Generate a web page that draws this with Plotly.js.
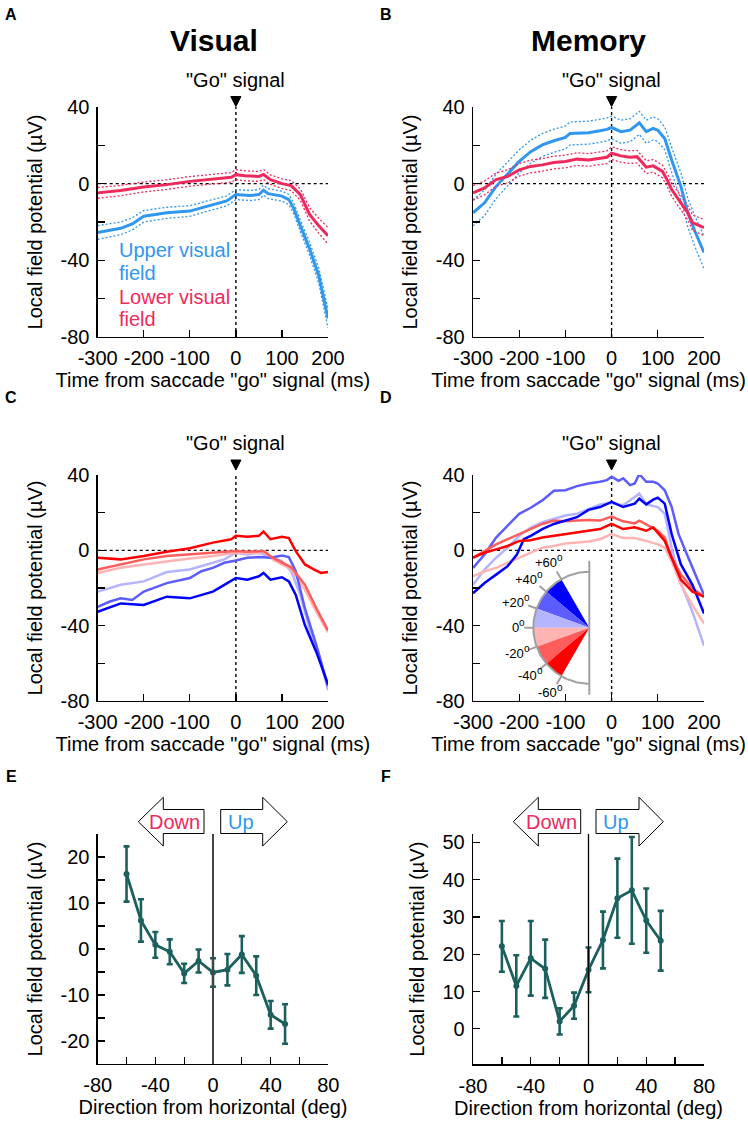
<!DOCTYPE html>
<html><head><meta charset="utf-8">
<script src="https://cdn.plot.ly/plotly-3.0.1.min.js"></script>
<style>body{margin:0;background:#fff}</style>
</head><body><div id="chart" style="width:748px;height:1125px"></div>
<script>
// ---------- Panel A (Visual): upper vs lower visual field ----------
const tA_low = [-300,-250,-200,-150,-100,-50,-10,0,20,50,60,75,100,120,140,160,180,200];
const vA_low = [-4.8,-3.6,-1.7,-0.5,1.2,2.4,3.3,4.7,4.1,3.8,4.8,2.1,0,-1,-5.7,-16,-22,-27.2];
const eA_low = [2.8,2.7,2.6,2.5,2.5,2.5,2.5,2.6,2.6,2.6,2.6,2.5,2.5,2.6,3,3.5,3.9,4.3];
const tA_up = [-300,-250,-225,-200,-150,-100,-75,-50,-20,0,30,50,60,70,100,115,125,140,160,180,200];
const vA_up = [-25.5,-23.3,-21,-17,-15.2,-14.3,-12.6,-10.9,-9,-5.7,-6.2,-5.7,-3.4,-5.2,-6.5,-8.3,-12.6,-22,-34,-48,-70.3];
const eA_up = [3.6,3.3,3.2,3,2.9,2.8,2.7,2.7,2.6,2.6,2.6,2.6,2.6,2.6,2.6,2.7,2.8,3,3.4,4,5];

// ---------- Panel B (Memory): upper vs lower visual field ----------
const tB_up = [-300,-275,-250,-225,-200,-175,-150,-125,-100,-90,-50,-25,-10,0,20,40,60,75,90,100,115,130,150,165,180,200];
const vB_up = [-15.2,-10,-1.4,5.2,11.6,16.7,20.2,22.4,24.1,26.2,26.6,27.6,28.3,29.3,27.1,27.9,31.7,27.1,28.8,27.9,23.6,12.4,-1.4,-15.2,-24.7,-35.9];
const eB_up = [6.8,6.6,6.4,6.2,6,6,6,6,6,6,6,6,6,6,6,6,6,6,6,6,6,6.5,7,7.5,8,8.5];
const tB_low = [-300,-275,-250,-225,-200,-175,-150,-125,-100,-75,-50,-25,-10,0,20,40,55,75,90,110,120,130,150,165,175,200];
const vB_low = [-4.8,-2.2,2.1,3.8,7.2,9,9.8,11,11.6,12.8,12.4,13.3,13.8,15.9,14.5,13.8,14.1,8.6,9.3,6.4,2.1,-3.1,-10,-15.2,-20.3,-22.9];
const eB_low = [3.8,3.6,3.5,3.4,3.3,3.3,3.3,3.3,3.3,3.3,3.3,3.3,3.3,3.3,3.3,3.3,3.3,3.3,3.3,3.3,3.4,3.5,3.6,3.8,4,4.2];

// ---------- Panel C (Visual): six direction bins ----------
const tC_b60 = [-300,-250,-200,-150,-100,-75,-50,-25,0,25,50,60,75,100,115,130,150,175,200];
const vC_b60 = [-32.6,-28.2,-29,-24.6,-25.5,-23.7,-21.9,-18.3,-14.7,-15.6,-13.8,-12,-15.6,-14.3,-16.5,-23.7,-39.8,-54.2,-71.2];
const tC_b40 = [-300,-275,-250,-225,-200,-150,-100,-75,-50,-25,0,25,50,75,100,115,130,150,175,200];
const vC_b40 = [-30,-27.3,-25.5,-26.4,-21.9,-17.4,-14.7,-11.1,-9.3,-6.6,-5.4,-3.9,-3.6,-3.9,-2.7,-3.6,-11.1,-30.9,-50.6,-72.1];
const tC_b20 = [-300,-250,-200,-150,-100,-75,-50,-25,0,25,50,75,100,120,140,160,180,200];
const vC_b20 = [-21.9,-18.3,-16.5,-11.5,-10.2,-8.4,-6.6,-4.8,-1.3,-2.2,-1.3,-3.6,-5.7,-11.1,-23.7,-41.7,-55.2,-74.3];
const tC_r20 = [-300,-250,-200,-150,-100,-50,0,25,50,60,80,100,120,150,175,200];
const vC_r20 = [-12,-9.3,-7.5,-5.7,-4.3,-3,-1.3,-1.4,-1.4,-0.7,-4.8,-7.5,-9.7,-21,-32.7,-43.5];
const tC_r40 = [-300,-250,-200,-150,-100,-50,0,25,50,60,80,100,120,150,175,200];
const vC_r40 = [-10.2,-7.5,-4.8,-3,-2.2,-1.3,-0.4,-0.7,-0.7,-0.4,-3.9,-6.6,-9,-18.3,-30.9,-42.5];
const tC_r60 = [-300,-250,-200,-150,-100,-50,-10,0,25,50,60,75,100,115,130,150,170,185,200];
const vC_r60 = [-3.9,-4.8,-3,-0.7,1.1,4.1,5.9,7.7,7.2,7.7,10,5.9,7.2,6.5,-0.4,-7.5,-10.2,-12,-11.5];

// ---------- Panel D (Memory): six direction bins ----------
const tD_b60 = [-300,-275,-250,-225,-205,-190,-175,-150,-125,-100,-75,-50,-25,0,25,50,60,75,90,100,115,130,150,175,200];
const vD_b60 = [-22.8,-17.4,-12.9,-8.4,-2.2,5.9,7.7,11.3,14,15.8,17.6,21.5,23,25.7,23,24.8,27.4,24.4,26.9,28,24.8,8.6,-7.5,-18.3,-33.5];
const tD_b40 = [-300,-275,-250,-225,-200,-175,-150,-125,-100,-75,-50,-25,-10,0,15,25,40,50,60,75,90,100,115,130,145,160,175,190,200];
const vD_b40 = [-9.3,-2.2,6.8,13.1,19.4,22.6,26.5,31.6,31.9,34.1,35.5,36.4,37.3,39.1,36.9,38.2,34.6,35.5,40.5,36.4,36.4,35.5,31.9,23,8.6,-0.4,-9.3,-18.3,-23.7];
const tD_b20 = [-300,-275,-250,-225,-200,-175,-150,-125,-100,-75,-50,-25,0,25,50,60,75,100,115,130,150,175,200];
const vD_b20 = [-18.3,-10.2,-3.9,1.4,7.7,12.1,14.9,16.7,18.5,19.4,22.1,24.4,25.1,23.9,28.3,30.1,24.4,23,19.4,1.4,-17.4,-32.7,-50.6];
const tD_r20 = [-300,-275,-250,-225,-200,-175,-150,-125,-100,-75,-50,-25,0,25,50,75,100,115,130,150,175,200];
const vD_r20 = [-13.8,-11.1,-9.3,-6.6,-3.9,-1.3,1.4,2.3,3.6,4.1,4.7,5.9,8.6,6.5,6.5,5,3.2,1.4,-5.7,-18.3,-29.1,-38.9];
const tD_r40 = [-300,-275,-250,-225,-200,-175,-150,-125,-100,-75,-50,-25,0,25,50,60,75,100,115,130,150,175,200];
const vD_r40 = [-3.9,-0.4,3.2,5.9,8.6,11.3,14,15.8,15.4,15.8,16.1,15.8,17.9,15.4,14.3,15.8,13.6,10.4,6.8,-3.9,-12.9,-20.1,-24.6];
const tD_r60 = [-300,-275,-250,-225,-200,-175,-150,-125,-100,-75,-50,-25,0,25,50,75,90,100,115,130,150,175,200];
const vD_r60 = [-3.9,-1.3,0.5,2.3,5,5.4,6.8,7.7,8.6,9.5,10.4,11.3,14,11.3,12.2,10.4,12.2,9.5,5,-3.9,-15.6,-21.9,-24.6];

// ---------- Panels E / F: tuning by direction ----------
const directions = [-60,-50,-40,-30,-20,-10,0,10,20,30,40,50];
const lfpE = [16.3,6.2,0.9,-0.6,-5.3,-2.6,-5.1,-4.5,-1.2,-5.8,-14.3,-16.3];
const errE = [6,4.6,2.8,2.7,2.1,2.5,3.1,3.4,4,4.2,3,4.3];
const lfpF = [22.1,11.5,18.9,16.1,2,6.2,15.8,23.8,35,37.1,29,23.6];
const errF = [6.8,8.2,10,7.8,3.5,3.5,6,7.6,10.6,14.3,8.6,8];

// ---------- tick labels ----------
const timeTicks = [-300,-200,-100,0,100,200];
const timeTickText = ['-300','-200','-100','0','100','200'];
const lfpTicks = [-80,-40,0,40];
const lfpTickText = ['-80','-40','0','40'];
const dirTicks = [-80,-40,0,40,80];
const dirTickText = ['-80','-40','0','40','80'];
const eTicks = [-20,-10,0,10,20];
const eTickText = ['-20','-10','0','10','20'];
const fTicks = [0,10,20,30,40,50];
const fTickText = ['0','10','20','30','40','50'];

// inset legend (direction bins)
const wedgeEdges = [60,40,20,0,-20,-40,-60];
const wedgeLabels = ['+60','+40','+20','0','-20','-40','-60'];
const binColors = ['#0000ff','#5c5cff','#b4b4ff','#ffb4b4','#ff5c5c','#ff0000'];

const BLUE = '#2f97f0', RED = '#ee2a5c', TEAL = '#1b605c';

// ---------- layout helpers ----------
const W = 748, H = 1125;
const PX = x => x / W, PY = y => 1 - y / H;
const FONT = 'Liberation Sans, Arial, sans-serif';

function axisBase(tv, tt, minorDtick, minor0, title, standoff) {
  return {tickvals:tv, ticktext:tt,
    ticks:'inside', ticklen:7, tickwidth:1.3, tickcolor:'#000',
    minor: minorDtick ? {tick0:minor0, dtick:minorDtick, ticks:'inside', ticklen:7, tickwidth:1.3, tickcolor:'#000', showgrid:false} : undefined,
    showline:true, linecolor:'#000', linewidth:1.3, showgrid:false, zeroline:false,
    tickfont:{size:20,color:'#000'}, ticklabelstandoff:3,
    title:{text:title, font:{size:20,color:'#000'}, standoff}, fixedrange:true};
}
function xAxis(x0, x1, anchor, range, tv, tt, md, m0, title) {
  return Object.assign(axisBase(tv, tt, md, m0, title, 4), {domain:[PX(x0),PX(x1)], anchor, range});
}
function yAxis(top, bot, anchor, range, tv, tt, md, m0, title) {
  return Object.assign(axisBase(tv, tt, md, m0, title, 12), {domain:[PY(bot),PY(top)], anchor, range});
}

const traces = [];
function line(x, y, xa, ya, color, width, dash) {
  traces.push({type:'scatter', mode:'lines', x, y, xaxis:xa, yaxis:ya,
    line:{color, width, dash: dash || 'solid'}, showlegend:false, hoverinfo:'skip'});
}
function withCI(t, v, e, xa, ya, color) {
  line(t, v.map((d,i)=>d+e[i]), xa, ya, color, 1.3, '2px,2px');
  line(t, v.map((d,i)=>d-e[i]), xa, ya, color, 1.3, '2px,2px');
  line(t, v, xa, ya, color, 3);
}
withCI(tA_low, vA_low, eA_low, 'x', 'y', RED);
withCI(tA_up, vA_up, eA_up, 'x', 'y', BLUE);
withCI(tB_up, vB_up, eB_up, 'x2', 'y2', BLUE);
withCI(tB_low, vB_low, eB_low, 'x2', 'y2', RED);

const cSeries = [[tC_b60,vC_b60],[tC_b40,vC_b40],[tC_b20,vC_b20],[tC_r20,vC_r20],[tC_r40,vC_r40],[tC_r60,vC_r60]];
const dSeries = [[tD_b60,vD_b60],[tD_b40,vD_b40],[tD_b20,vD_b20],[tD_r20,vD_r20],[tD_r40,vD_r40],[tD_r60,vD_r60]];
[2,3,1,4,0,5].forEach(i => line(cSeries[i][0], cSeries[i][1], 'x3', 'y3', binColors[i], 2.5));
[2,3,1,4,0,5].forEach(i => line(dSeries[i][0], dSeries[i][1], 'x4', 'y4', binColors[i], 2.5));

function tuning(y, err, xa, ya) {
  traces.push({type:'scatter', mode:'lines+markers', x:directions, y, xaxis:xa, yaxis:ya,
    line:{color:TEAL, width:2.8}, marker:{color:TEAL, size:6},
    error_y:{type:'data', array:err, visible:true, color:TEAL, thickness:2.6, width:3},
    showlegend:false, hoverinfo:'skip', cliponaxis:false});
}
tuning(lfpE, errE, 'x5', 'y5');
tuning(lfpF, errF, 'x6', 'y6');

// inset fan (legend for direction bins), drawn in a px-scaled helper axis
const R = 56;
const pt = (a, r) => [-r*Math.cos(a*Math.PI/180), r*Math.sin(a*Math.PI/180)];
for (let i = 0; i < 6; i++) {
  const xs = [0], ys = [0];
  for (let a = wedgeEdges[i]; a >= wedgeEdges[i+1] - 0.01; a -= 1) { const p = pt(a, R); xs.push(p[0]); ys.push(p[1]); }
  xs.push(0); ys.push(0);
  traces.push({type:'scatter', mode:'lines', x:xs, y:ys, xaxis:'x7', yaxis:'y7', fill:'toself',
    fillcolor:binColors[i], line:{width:0, color:binColors[i]}, showlegend:false, hoverinfo:'skip'});
}
{
  const xs = [], ys = [];
  for (let a = 90; a >= -90; a -= 2) { const p = pt(a, R); xs.push(p[0]); ys.push(p[1]); }
  traces.push({type:'scatter', mode:'lines', x:xs, y:ys, xaxis:'x7', yaxis:'y7',
    line:{color:'#a0a0a0', width:2}, showlegend:false, hoverinfo:'skip'});
  traces.push({type:'scatter', mode:'lines', x:[0,0], y:[67,-67], xaxis:'x7', yaxis:'y7',
    line:{color:'#a0a0a0', width:2}, showlegend:false, hoverinfo:'skip'});
  const tx = [], ty = [];
  wedgeEdges.forEach(a => { const p = pt(a, R), q = pt(a, R + 9); tx.push(p[0], q[0], null); ty.push(p[1], q[1], null); });
  traces.push({type:'scatter', mode:'lines', x:tx, y:ty, xaxis:'x7', yaxis:'y7',
    line:{color:'#a0a0a0', width:2}, showlegend:false, hoverinfo:'skip'});
}

// ---------- layout ----------
const tTitle = 'Time from saccade "go" signal (ms)';
const yTitle = 'Local field potential (µV)';
const dTitle = 'Direction from horizontal (deg)';
const layout = {
  width:W, height:H, margin:{l:0,r:0,t:0,b:0}, paper_bgcolor:'#fff', plot_bgcolor:'rgba(0,0,0,0)',
  font:{family:FONT, color:'#000'}, showlegend:false,
  xaxis: xAxis(97.7, 328, 'y', [-300,200], timeTicks, timeTickText, 0, 0, tTitle),
  yaxis: yAxis(107, 337, 'x', [-80,40], lfpTicks, lfpTickText, 20, -80, yTitle),
  xaxis2: xAxis(473, 704, 'y2', [-300,200], timeTicks, timeTickText, 0, 0, tTitle),
  yaxis2: yAxis(107, 337, 'x2', [-80,40], lfpTicks, lfpTickText, 20, -80, yTitle),
  xaxis3: xAxis(97.7, 328, 'y3', [-300,200], timeTicks, timeTickText, 0, 0, tTitle),
  yaxis3: yAxis(475, 701, 'x3', [-80,40], lfpTicks, lfpTickText, 20, -80, yTitle),
  xaxis4: xAxis(473, 704, 'y4', [-300,200], timeTicks, timeTickText, 0, 0, tTitle),
  yaxis4: yAxis(475, 701, 'x4', [-80,40], lfpTicks, lfpTickText, 20, -80, yTitle),
  xaxis5: xAxis(97.7, 328.3, 'y5', [-80,80], dirTicks, dirTickText, 20, -80, dTitle),
  yaxis5: yAxis(834, 1064, 'x5', [-25,25], eTicks, eTickText, 5, -20, yTitle),
  xaxis6: xAxis(473, 704, 'y6', [-80,80], dirTicks, dirTickText, 20, -80, dTitle),
  yaxis6: yAxis(834, 1064.3, 'x6', [-9.5,52.2], fTicks, fTickText, 0, 0, yTitle),
  xaxis7: {domain:[PX(489.3),PX(689.3)], anchor:'y7', range:[-100,100], visible:false, fixedrange:true},
  yaxis7: {domain:[PY(727.7),PY(527.7)], anchor:'x7', range:[-100,100], visible:false, fixedrange:true},
  shapes: [], annotations: []
};

const S = layout.shapes, A = layout.annotations;
function note(o) { A.push(Object.assign({showarrow:false, xanchor:'center', yanchor:'middle'}, o)); }
// go-signal markers, dotted reference lines
[['x','y',80,96.5],['x2','y2',80,96.5],['x3','y3',443,460],['x4','y4',443,460]].forEach(([xa,ya,ty,tri]) => {
  S.push({type:'line', xref:xa, yref:ya, x0:-300, x1:200, y0:0, y1:0, line:{color:'#000', width:1.4, dash:'dot'}, layer:'below'});
  S.push({type:'line', xref:xa, yref:ya, x0:0, x1:0, y0:-80, y1:40, line:{color:'#000', width:1.4, dash:'dot'}, layer:'below'});
  S.push({type:'path', xref:xa, yref:'paper', path:`M -11 ${PY(tri)} L 11 ${PY(tri)} L 0 ${PY(tri+10)} Z`,
    fillcolor:'#000', line:{color:'#000', width:1}});
  note({xref:xa, yref:'paper', x:0, y:PY(ty), text:'"Go" signal', font:{size:20}});
});
// vertical zero lines in E and F
S.push({type:'line', xref:'x5', yref:'y5', x0:0, x1:0, y0:-25, y1:25, line:{color:'#444', width:2}});
S.push({type:'line', xref:'x6', yref:'y6', x0:0, x1:0, y0:-9.5, y1:52.2, line:{color:'#000', width:1.3}});

// Down / Up arrows
function arrowPath(pts) { return 'M ' + pts.map(p => PX(p[0]) + ' ' + PY(p[1])).join(' L ') + ' Z'; }
function arrows(tipL, baseL, endL, startR, baseR, tipR) {
  const cy = 821.7, ht = 797.3, hb = 846, bt = 809.5, bb = 833.5;
  S.push({type:'path', xref:'paper', yref:'paper', fillcolor:'#fff', line:{color:'#000', width:1},
    path: arrowPath([[tipL,cy],[baseL,ht],[baseL,bt],[endL,bt],[endL,bb],[baseL,bb],[baseL,hb]])});
  S.push({type:'path', xref:'paper', yref:'paper', fillcolor:'#fff', line:{color:'#000', width:1},
    path: arrowPath([[startR,bt],[baseR,bt],[baseR,ht],[tipR,cy],[baseR,hb],[baseR,bb],[startR,bb]])});
  note({xref:'paper', yref:'paper', x:PX(endL-2), y:PY(cy), xanchor:'right', text:'Down', font:{size:20, color:RED}});
  note({xref:'paper', yref:'paper', x:PX(startR+5), y:PY(cy), xanchor:'left', text:'Up', font:{size:20, color:BLUE}});
}
arrows(138.3, 163.3, 204, 220.7, 262.7, 287.3);
arrows(513.3, 538.3, 580.7, 596, 639, 663.3);

// panel titles & letters
note({xref:'paper', yref:'paper', x:PX(214), y:PY(40), text:'<b>Visual</b>', font:{size:30}});
note({xref:'paper', yref:'paper', x:PX(588), y:PY(40), text:'<b>Memory</b>', font:{size:30}});
[['A',11,15],['B',386,15],['C',11,398],['D',386,398],['E',11,776],['F',386,776]].forEach(([t,x,y]) =>
  note({xref:'paper', yref:'paper', x:PX(x), y:PY(y), text:'<b>'+t+'</b>', font:{size:16}}));

// panel A inline legend
[['Upper visual',250,BLUE],['field',273,BLUE],['Lower visual',296.5,RED],['field',318.5,RED]].forEach(([t,y,c]) =>
  note({xref:'paper', yref:'paper', x:PX(117), y:PY(y), xanchor:'left', text:t, font:{size:20, color:c}}));

// inset labels (number + raised small "o" for degrees)
wedgeEdges.forEach((a, i) => {
  const p = pt(a, 75);
  note({xref:'x7', yref:'y7', x:p[0] + 6, y:p[1], xanchor:'right', borderpad:0, text:wedgeLabels[i], font:{size:13}});
  note({xref:'x7', yref:'y7', x:p[0] + 4, y:p[1] + 5, xanchor:'left', borderpad:0, text:'o', font:{size:10}});
});

Plotly.newPlot('chart', traces, layout, {staticPlot:true, displayModeBar:false});
</script>
</body></html>
